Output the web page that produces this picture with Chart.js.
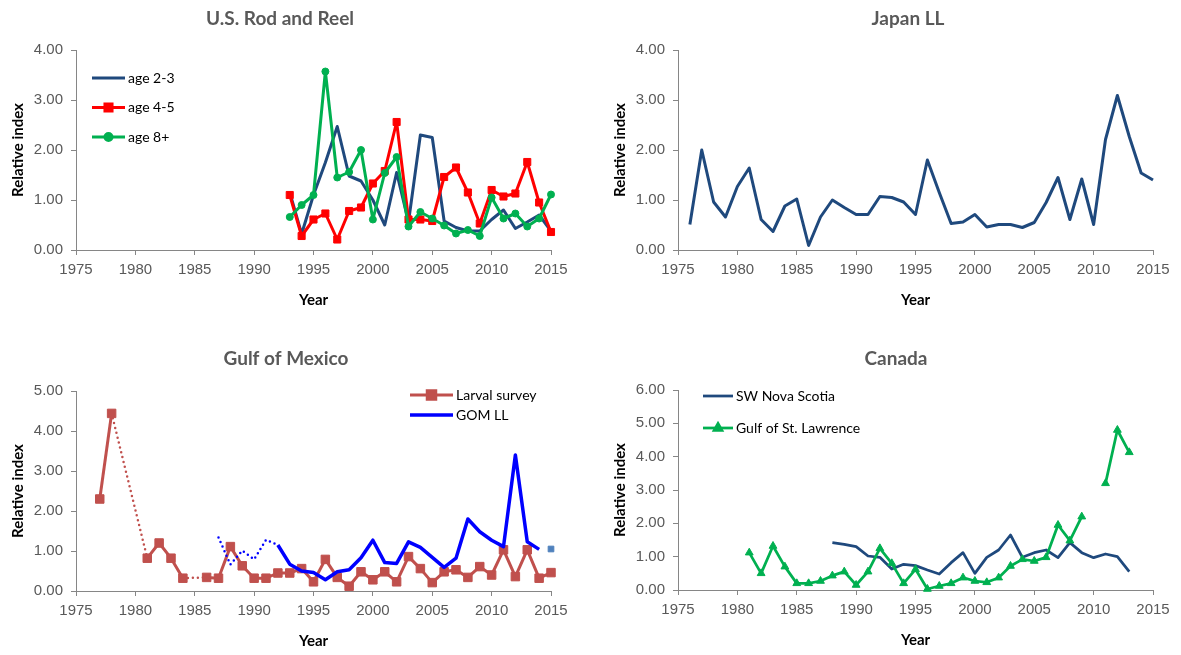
<!DOCTYPE html>
<html>
<head>
<meta charset="utf-8">
<title>Relative index by fishery</title>
<script src="https://cdn.jsdelivr.net/npm/chart.js@4.4.1/dist/chart.umd.min.js"></script>
<style>
  html, body { margin: 0; padding: 0; background: #fff; }
  body { width: 1181px; height: 655px; position: relative; overflow: hidden; }
  canvas { position: absolute; }
</style>
</head>
<body>
<canvas id="rodReel" width="590" height="320" style="left:0;top:0"></canvas>
<canvas id="japanLL" width="579" height="320" style="left:602px;top:0"></canvas>
<canvas id="gulfMexico" width="590" height="320" style="left:0;top:341px"></canvas>
<canvas id="canada" width="579" height="320" style="left:602px;top:340px"></canvas>
<script>
// values
const yearTicks = [1975, 1980, 1985, 1990, 1995, 2000, 2005, 2010, 2015];

// U.S. Rod and Reel
const rodYears = [1993, 1994, 1995, 1996, 1997, 1998, 1999, 2000, 2001, 2002, 2003, 2004,
  2005, 2006, 2007, 2008, 2009, 2010, 2011, 2012, 2013, 2014, 2015];
const rodAge23 = [1.15, 0.32, 1.10, 1.75, 2.47, 1.48, 1.38, 1.00, 0.50, 1.55, 0.56, 2.30,
  2.25, 0.58, 0.45, 0.38, 0.38, 0.61, 0.80, 0.43, 0.56, 0.70, 0.38];
const rodAge45 = [1.10, 0.28, 0.61, 0.73, 0.21, 0.78, 0.85, 1.33, 1.58, 2.56, 0.61, 0.61,
  0.58, 1.46, 1.65, 1.15, 0.53, 1.20, 1.07, 1.13, 1.76, 0.95, 0.36];
const rodAge8 = [0.66, 0.90, 1.10, 3.57, 1.45, 1.56, 2.00, 0.61, 1.54, 1.86, 0.47, 0.76,
  0.63, 0.49, 0.33, 0.40, 0.28, 1.05, 0.63, 0.73, 0.47, 0.63, 1.11];
const rodTicks = [0, 1, 2, 3, 4];

// Japan LL
const japanYears = [1976, 1977, 1978, 1979, 1980, 1981, 1982, 1983, 1984, 1985, 1986, 1987,
  1988, 1989, 1990, 1991, 1992, 1993, 1994, 1995, 1996, 1997, 1998, 1999, 2000, 2001, 2002,
  2003, 2004, 2005, 2006, 2007, 2008, 2009, 2010, 2011, 2012, 2013, 2014, 2015];
const japanIndex = [0.51, 2.00, 0.96, 0.66, 1.27, 1.64, 0.61, 0.37, 0.88, 1.02, 0.09, 0.66,
  1.00, 0.85, 0.71, 0.71, 1.07, 1.05, 0.96, 0.71, 1.80, 1.15, 0.53, 0.56, 0.71, 0.46, 0.51,
  0.51, 0.45, 0.55, 0.95, 1.45, 0.61, 1.42, 0.51, 2.21, 3.09, 2.27, 1.54, 1.40];
const japanTicks = [0, 1, 2, 3, 4];

// Gulf of Mexico (null = no survey that year)
const larvalYears = [1977, 1978, 1979, 1980, 1981, 1982, 1983, 1984, 1985, 1986, 1987, 1988,
  1989, 1990, 1991, 1992, 1993, 1994, 1995, 1996, 1997, 1998, 1999, 2000, 2001, 2002, 2003,
  2004, 2005, 2006, 2007, 2008, 2009, 2010, 2011, 2012, 2013, 2014, 2015];
const larvalIndex = [2.30, 4.44, null, null, 0.82, 1.20, 0.82, 0.32, null, 0.34, 0.32, 1.11,
  0.63, 0.32, 0.32, 0.45, 0.45, 0.56, 0.23, 0.79, 0.34, 0.12, 0.48, 0.28, 0.48, 0.23, 0.86,
  0.56, 0.21, 0.48, 0.53, 0.34, 0.61, 0.40, 1.03, 0.36, 1.03, 0.32, 0.46];
const gomYears = [1987, 1988, 1989, 1990, 1991, 1992, 1993, 1994, 1995, 1996, 1997, 1998,
  1999, 2000, 2001, 2002, 2003, 2004, 2005, 2006, 2007, 2008, 2009, 2010, 2011, 2012, 2013, 2014];
const gomIndex = [1.34, 0.66, 1.01, 0.79, 1.28, 1.15, 0.67, 0.50, 0.46, 0.28, 0.48, 0.53,
  0.83, 1.27, 0.71, 0.69, 1.23, 1.09, 0.84, 0.59, 0.82, 1.80, 1.48, 1.27, 1.11, 3.40, 1.23, 1.04];
const gomDottedUntil = 1992;
const gomExtraYears = [2015];
const gomExtraIndex = [1.05];
const gulfTicks = [0, 1, 2, 3, 4, 5];

// Canada
const novaYears = [1988, 1989, 1990, 1991, 1992, 1993, 1994, 1995, 1996, 1997, 1998, 1999,
  2000, 2001, 2002, 2003, 2004, 2005, 2006, 2007, 2008, 2009, 2010, 2011, 2012, 2013];
const novaIndex = [1.42, 1.37, 1.30, 1.02, 0.98, 0.63, 0.77, 0.73, 0.60, 0.48, 0.82, 1.12,
  0.50, 0.98, 1.20, 1.65, 0.98, 1.12, 1.20, 0.97, 1.42, 1.12, 0.97, 1.08, 1.00, 0.55];
const lawrenceYears = [1981, 1982, 1983, 1984, 1985, 1986, 1987, 1988, 1989, 1990, 1991,
  1992, 1993, 1994, 1995, 1996, 1997, 1998, 1999, 2000, 2001, 2002, 2003, 2004, 2005, 2006,
  2007, 2008, 2009, 2010, 2011, 2012, 2013];
const lawrenceIndex = [1.12, 0.50, 1.32, 0.70, 0.20, 0.20, 0.27, 0.43, 0.55, 0.15, 0.55,
  1.25, 0.80, 0.20, 0.62, 0.03, 0.12, 0.20, 0.37, 0.27, 0.23, 0.37, 0.72, 0.92, 0.87, 0.98,
  1.95, 1.48, 2.20, null, 3.20, 4.80, 4.13];
const canadaTicks = [0, 1, 2, 3, 4, 5, 6];

const navy = '#1F497D';
const axisGrey = '#868686';
const textGrey = '#595959';

Chart.defaults.font.family = '"Liberation Sans", Arial, sans-serif';

function pts(xs, ys) {
  return xs.map((x, i) => ({ x: x, y: ys[i] }));
}

// titles and in-plot legends, drawn like the Excel originals
const panelDecor = {
  id: 'panelDecor',
  afterDatasetsDraw(chart, args, opts) {
    const ctx = chart.ctx;
    ctx.save();
    ctx.fillStyle = textGrey;
    ctx.font = 'bold 19px Lato';
    ctx.textAlign = 'center';
    ctx.textBaseline = 'middle';
    ctx.fillText(opts.title, opts.titleX, opts.titleY);

    const lg = opts.legend;
    if (lg) {
      let y = lg.y;
      chart.data.datasets.forEach(ds => {
        if (!ds.label) return;
        ctx.setLineDash([]);
        ctx.strokeStyle = ds.borderColor;
        ctx.lineWidth = ds.borderWidth;
        ctx.beginPath();
        ctx.moveTo(lg.x0, y);
        ctx.lineTo(lg.x1, y);
        ctx.stroke();
        if (ds.pointRadius > 0) {
          ctx.fillStyle = ds.pointBackgroundColor;
          ctx.strokeStyle = ds.pointBorderColor;
          Chart.helpers.drawPoint(ctx, {
            pointStyle: ds.pointStyle, rotation: 0,
            radius: ds.pointRadius, borderWidth: ds.pointBorderWidth
          }, (lg.x0 + lg.x1) / 2, y);
        }
        ctx.fillStyle = '#000';
        ctx.font = '14px Lato';
        ctx.textAlign = 'left';
        ctx.fillText(ds.label, lg.x1 + 3, y);
        y += lg.gap;
      });
    }
    ctx.restore();
  }
};

function makePanel(id, datasets, yTicks, rightPad, decor) {
  const ctx = document.getElementById(id).getContext('2d');
  return new Chart(ctx, {
    type: 'line',
    data: { datasets: datasets },
    options: {
      responsive: false,
      animation: false,
      events: [],
      layout: { padding: { top: 50, right: rightPad, bottom: 0, left: 0 } },
      plugins: {
        legend: { display: false },
        tooltip: { enabled: false },
        panelDecor: decor
      },
      scales: {
        x: {
          type: 'linear',
          min: yearTicks[0],
          max: yearTicks[yearTicks.length - 1],
          afterBuildTicks: s => { s.ticks = yearTicks.map(v => ({ value: v })); },
          afterFit: s => { s.height = 70; },
          ticks: { color: textGrey, font: { size: 15 }, padding: 6, callback: v => String(v) },
          grid: { drawOnChartArea: false, drawTicks: true, tickLength: 5, color: axisGrey },
          border: { color: axisGrey, width: 1 },
          title: {
            display: true, text: 'Year', color: '#000',
            font: { family: 'Lato', size: 15, weight: 'bold' },
            padding: { top: 0, bottom: 11 }
          }
        },
        y: {
          min: yTicks[0],
          max: yTicks[yTicks.length - 1],
          afterBuildTicks: s => { s.ticks = yTicks.map(v => ({ value: v })); },
          afterFit: s => { s.width = 76; },
          ticks: { color: textGrey, font: { size: 15 }, padding: 8, callback: v => v.toFixed(2) },
          grid: { drawOnChartArea: false, drawTicks: true, tickLength: 5, color: axisGrey },
          border: { color: axisGrey, width: 1 },
          title: {
            display: true, text: 'Relative index', color: '#000',
            font: { family: 'Lato', size: 15, weight: 'bold' },
            padding: { top: 9, bottom: 0 }
          }
        }
      }
    },
    plugins: [panelDecor]
  });
}

function lineSet(label, xs, ys, color, width, extra) {
  return Object.assign({
    label: label,
    data: pts(xs, ys),
    borderColor: color,
    backgroundColor: color,
    borderWidth: width,
    borderJoinStyle: 'round',
    pointRadius: 0,
    pointBackgroundColor: color,
    pointBorderColor: color,
    pointBorderWidth: 1,
    tension: 0,
    clip: false
  }, extra || {});
}

makePanel('rodReel', [
  lineSet('age 2-3', rodYears, rodAge23, navy, 3, { order: 2 }),
  lineSet('age 4-5', rodYears, rodAge45, '#FF0000', 3, { order: 1, pointStyle: 'rect', pointRadius: 5 }),
  lineSet('age 8+', rodYears, rodAge8, '#00B050', 3, { order: 0, pointStyle: 'circle', pointRadius: 3.5 })
], rodTicks, 39, {
  title: 'U.S. Rod and Reel', titleX: 280, titleY: 19,
  legend: { x0: 92, x1: 125, y: 78, gap: 29.5 }
});

makePanel('japanLL', [
  lineSet('Japan LL', japanYears, japanIndex, navy, 3)
], japanTicks, 28, { title: 'Japan LL', titleX: 306, titleY: 19 });

// dotted where the larval series bridges a missing year, and for the early GOM LL years
const gapSeg = c => larvalIndex[c.p1DataIndex - 1] === null;
const earlyGom = c => gomYears[c.p1DataIndex] <= gomDottedUntil;

makePanel('gulfMexico', [
  lineSet('Larval survey', larvalYears, larvalIndex, '#C0504D', 3, {
    order: 1, pointStyle: 'rect', pointRadius: 6, spanGaps: true,
    segment: {
      borderDash: c => (gapSeg(c) ? [0, 5] : undefined),
      borderCapStyle: c => (gapSeg(c) ? 'round' : undefined),
      borderWidth: c => (gapSeg(c) ? 2.5 : undefined)
    }
  }),
  lineSet('GOM LL', gomYears, gomIndex, '#0000FF', 3.5, {
    order: 0,
    segment: {
      borderDash: c => (earlyGom(c) ? [0, 5] : undefined),
      borderCapStyle: c => (earlyGom(c) ? 'round' : undefined),
      borderWidth: c => (earlyGom(c) ? 2.5 : undefined)
    }
  }),
  lineSet('', gomExtraYears, gomExtraIndex, '#4F81BD', 0, { order: 2, pointStyle: 'rect', pointRadius: 4, showLine: false })
], gulfTicks, 39, {
  title: 'Gulf of Mexico', titleX: 286, titleY: 18,
  legend: { x0: 410, x1: 453, y: 54, gap: 20 }
});

makePanel('canada', [
  lineSet('SW Nova Scotia', novaYears, novaIndex, navy, 2.75, { order: 1 }),
  lineSet('Gulf of St. Lawrence', lawrenceYears, lawrenceIndex, '#00B050', 2.75, {
    order: 0, pointStyle: 'triangle', pointRadius: 4.5
  })
], canadaTicks, 28, {
  title: 'Canada', titleX: 294, titleY: 19,
  legend: { x0: 101, x1: 131, y: 56, gap: 32 }
});
</script>
</body>
</html>
